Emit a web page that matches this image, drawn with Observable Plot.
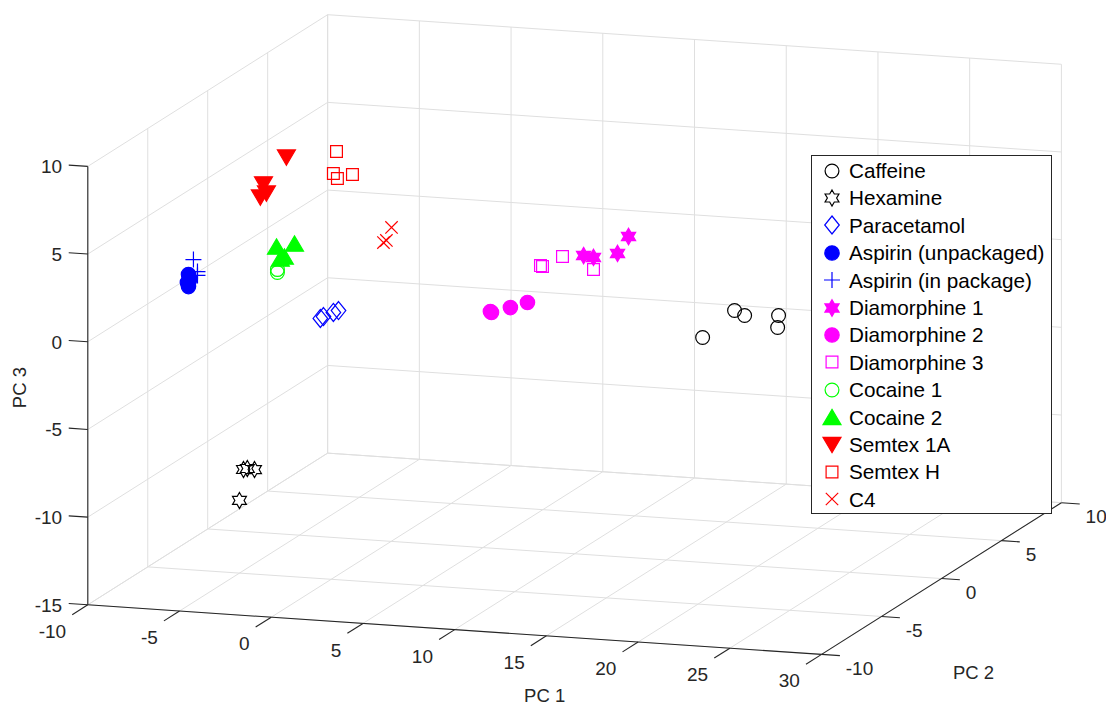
<!DOCTYPE html>
<html><head><meta charset="utf-8">
<script src="https://cdn.jsdelivr.net/npm/d3@7"></script>
<script src="https://cdn.jsdelivr.net/npm/@observablehq/plot@0.6"></script>
<style>
html,body{margin:0;padding:0;background:#fff;}
#wrap{position:relative;width:1106px;height:706px;font-family:"Liberation Sans",Arial,sans-serif;}
#legend{position:absolute;left:811px;top:155px;width:241px;height:359px;box-sizing:border-box;border:1px solid #262626;background:#fff;}
.row{position:absolute;left:0;height:27.4px;width:238px;}
.row svg{position:absolute;left:7.7px;top:1.7px;}
.row span{position:absolute;left:37px;top:0;line-height:27.4px;font-size:20.7px;color:#000;white-space:nowrap;}
</style></head>
<body><div id="wrap"></div>
<script>
// ---------------- data ----------------
const seriesNames = ["Caffeine","Hexamine","Paracetamol","Aspirin (unpackaged)","Aspirin (in package)","Diamorphine 1","Diamorphine 2","Diamorphine 3","Cocaine 1","Cocaine 2","Semtex 1A","Semtex H","C4"];
// [PC1, PC2, PC3]
const caffeine   = [[18.94,-3,-0.74],[20.68,-3,0.92],[21.23,-3,0.68],[23.08,-3,0.81],[23.03,-3,0.12]];
const hexamine   = [[-8.05,0,-11.47],[-7.84,0,-11.40],[-7.45,0,-11.43],[-8.27,0,-13.25]];
const paracetamol= [[-3.86,0,-2.56],[-3.69,0,-2.44],[-3.15,0,-2.17],[-2.87,0,-2.04]];
const aspirinUnpackaged = [[-7.78,-5,1.83],[-7.73,-5,1.60],[-7.84,-5,1.37],[-7.78,-5,1.14],[-7.73,-5,1.49]];
const aspirinInPackage  = [[-7.51,-5,2.70],[-7.29,-5,2.03],[-7.29,-5,1.81]];
const diamorphine1 = [[12.94,0,3.30],[12.34,0,2.29],[11.03,0,1.97],[10.49,0,2.04]];
const diamorphine2 = [[5.41,0,-1.51],[5.47,0,-1.56],[6.50,0,-1.21],[7.43,0,-0.85]];
const diamorphine3 = [[8.14,0,1.30],[8.25,0,1.26],[9.34,0,1.90],[11.03,0,1.28]];
const cocaine1   = [[-6.20,0,0.06],[-6.20,0,-0.11]];
const cocaine2   = [[-6.25,0,1.37],[-5.27,0,1.61],[-6.04,0,0.70],[-5.82,0,0.83]];
const semtex1A   = [[-5.71,0,6.48],[-6.96,0,4.86],[-6.80,0,4.35],[-7.13,0,4.10]];
const semtexH    = [[-2.98,0,7.02],[-3.15,0,5.75],[-2.93,0,5.48],[-2.11,0,5.77]];
const c4         = [[0.02,0,2.90],[-0.42,0,2.01],[-0.26,0,2.14]];
const seriesData = [caffeine,hexamine,paracetamol,aspirinUnpackaged,aspirinInPackage,diamorphine1,diamorphine2,diamorphine3,cocaine1,cocaine2,semtex1A,semtexH,c4];

const pc1Ticks = [-10,-5,0,5,10,15,20,25,30];
const pc2Ticks = [-10,-5,0,5,10];
const pc3Ticks = [-15,-10,-5,0,5,10];
const axisLabels = ["PC 1","PC 2","PC 3"];

// ---------------- marker shapes ----------------
const rad = s => Math.sqrt(s / Math.PI);
const sym = {
  circle:{draw(c,s){const r=rad(s);c.moveTo(r,0);c.arc(0,0,r,0,2*Math.PI);c.closePath();}},
  diamond:{draw(c,s){const r=rad(s),w=r*0.81;c.moveTo(0,-r);c.lineTo(w,0);c.lineTo(0,r);c.lineTo(-w,0);c.closePath();}},
  square:{draw(c,s){const r=rad(s);c.moveTo(-r,-r);c.lineTo(r,-r);c.lineTo(r,r);c.lineTo(-r,r);c.closePath();}},
  plus:{draw(c,s){const r=rad(s);c.moveTo(-r,0);c.lineTo(r,0);c.moveTo(0,-r);c.lineTo(0,r);}},
  times:{draw(c,s){const r=rad(s);c.moveTo(-r,-r);c.lineTo(r,r);c.moveTo(r,-r);c.lineTo(-r,r);}},
  triUp:{draw(c,s){const r=rad(s),h=r*0.85;c.moveTo(0,-h);c.lineTo(r,h);c.lineTo(-r,h);c.closePath();}},
  triDown:{draw(c,s){const r=rad(s),h=r*0.85;c.moveTo(0,h);c.lineTo(r,-h);c.lineTo(-r,-h);c.closePath();}},
  hexagram:{draw(c,s){const R=rad(s),ri=R/Math.sqrt(3);for(let k=0;k<12;k++){const a=-Math.PI/2+k*Math.PI/6,rr=k%2?ri:R;const x=rr*Math.cos(a),y=rr*Math.sin(a);k?c.lineTo(x,y):c.moveTo(x,y);}c.closePath();}}
};
const styles = [
  {symbol:sym.circle,  r:6.9, fill:"none",    stroke:"#000000"},
  {symbol:sym.hexagram,r:8.0, fill:"none",    stroke:"#000000"},
  {symbol:sym.diamond, r:9.0, fill:"none",    stroke:"#0000ff"},
  {symbol:sym.circle,  r:7.2, fill:"#0000ff", stroke:"#0000ff"},
  {symbol:sym.plus,    r:8.0, fill:"none",    stroke:"#0000ff"},
  {symbol:sym.hexagram,r:8.2, fill:"#ff00ff", stroke:"#ff00ff"},
  {symbol:sym.circle,  r:7.2, fill:"#ff00ff", stroke:"#ff00ff"},
  {symbol:sym.square,  r:5.9, fill:"none",    stroke:"#ff00ff"},
  {symbol:sym.circle,  r:6.9, fill:"none",    stroke:"#00ff00"},
  {symbol:sym.triUp,   r:9.0, fill:"#00ff00", stroke:"#00ff00"},
  {symbol:sym.triDown, r:9.0, fill:"#ff0000", stroke:"#ff0000"},
  {symbol:sym.square,  r:5.9, fill:"none",    stroke:"#ff0000"},
  {symbol:sym.times,   r:6.2, fill:"none",    stroke:"#ff0000"}
];

// ---------------- 3D view (orthographic, az/el) ----------------
const lim = [d3.extent(pc1Ticks), d3.extent(pc2Ticks), d3.extent(pc3Ticks)];
const az = 18.1 * Math.PI / 180, el = 20 * Math.PI / 180;
function P(p) {
  const u = (p[0]-lim[0][0])/(lim[0][1]-lim[0][0]);
  const v = (p[1]-lim[1][0])/(lim[1][1]-lim[1][0]);
  const w = (p[2]-lim[2][0])/(lim[2][1]-lim[2][0]);
  return {X: u*Math.cos(az) + v*Math.sin(az),
          Y: -u*Math.sin(az)*Math.sin(el) + v*Math.cos(az)*Math.sin(el) + w*Math.cos(el)};
}
const corners = [];
for (const a of lim[0]) for (const b of lim[1]) for (const c of lim[2]) corners.push(P([a,b,c]));
const xDom = d3.extent(corners, d => d.X), yDom = d3.extent(corners, d => d.Y);

const [x0,x1] = lim[0], [y0,y1] = lim[1], [z0,z1] = lim[2];
const seg = (a,b) => ({a:P(a), b:P(b)});
const grid = [];
for (const t of pc1Ticks) { grid.push(seg([t,y0,z0],[t,y1,z0])); grid.push(seg([t,y1,z0],[t,y1,z1])); }
for (const t of pc2Ticks) { grid.push(seg([x0,t,z0],[x1,t,z0])); grid.push(seg([x0,t,z0],[x0,t,z1])); }
for (const t of pc3Ticks) { grid.push(seg([x0,y1,t],[x1,y1,t])); grid.push(seg([x0,y0,t],[x0,y1,t])); }
const axisLines = [seg([x0,y0,z0],[x1,y0,z0]), seg([x1,y0,z0],[x1,y1,z0]), seg([x0,y0,z0],[x0,y0,z1])];
const tickSegs = [
  ...pc1Ticks.map(t => seg([t,y0,z0],[t,y0-1.3,z0])),
  ...pc2Ticks.map(t => seg([x1,t,z0],[x1+1.0,t,z0])),
  ...pc3Ticks.map(t => seg([x0,y0,t],[x0-1.04,y0,t]))
];
const linkOpts = (stroke, w) => ({x1:d=>d.a.X, y1:d=>d.a.Y, x2:d=>d.b.X, y2:d=>d.b.Y, stroke, strokeWidth:w});
const tickFont = {fontSize:19, fill:"#262626"};

const marks = [
  Plot.link(grid, linkOpts("#dfdfdf", 1)),
  Plot.link(axisLines, linkOpts("#262626", 1.1)),
  Plot.link(tickSegs, linkOpts("#262626", 1.1)),
  Plot.text(pc1Ticks, {x:t=>P([t,y0,z0]).X, y:t=>P([t,y0,z0]).Y, text:t=>String(t), textAnchor:"end", dx:-21.7, dy:27, ...tickFont}),
  Plot.text(pc2Ticks, {x:t=>P([x1,t,z0]).X, y:t=>P([x1,t,z0]).Y, text:t=>String(t), textAnchor:"start", dx:24.2, dy:14.4, ...tickFont}),
  Plot.text(pc3Ticks, {x:t=>P([x0,y0,t]).X, y:t=>P([x0,y0,t]).Y, text:t=>String(t), textAnchor:"end", dx:-25.7, dy:0.8, ...tickFont}),
  Plot.text([axisLabels[0]], {x:()=>P([(x0+x1)/2,y0,z0]).X, y:()=>P([(x0+x1)/2,y0,z0]).Y, text:d=>d, dx:90, dy:66.5, ...tickFont, fontSize:18.5}),
  Plot.text([axisLabels[1]], {x:()=>P([x1,(y0+y1)/2,z0]).X, y:()=>P([x1,(y0+y1)/2,z0]).Y, text:d=>d, dx:32, dy:95, ...tickFont, fontSize:18.5}),
  Plot.text([axisLabels[2]], {x:()=>P([x0,y0,(z0+z1)/2]).X, y:()=>P([x0,y0,(z0+z1)/2]).Y, text:d=>d, dx:-68, dy:2, rotate:-90, ...tickFont, fontSize:18.5}),
  ...seriesData.map((data, i) => Plot.dot(data, {
    x:p=>P(p).X, y:p=>P(p).Y,
    symbol: styles[i].symbol, r: styles[i].r, fill: styles[i].fill, stroke: styles[i].stroke, strokeWidth: 1.2
  }))
];

const chart = Plot.plot({
  width:1106, height:706,
  marginLeft:87.3, marginRight:45.1, marginTop:14.2, marginBottom:52.1,
  x:{domain:xDom, axis:null}, y:{domain:yDom, axis:null},
  style:{fontFamily:'"Liberation Sans", Arial, sans-serif', background:"#fff"},
  marks
});
const wrap = document.getElementById("wrap");
wrap.appendChild(chart);

// ---------------- legend ----------------
const legend = document.createElement("div");
legend.id = "legend";
seriesNames.forEach((name, i) => {
  const row = document.createElement("div");
  row.className = "row";
  row.style.top = (1 + i*27.4) + "px";
  const st = styles[i];
  const p = d3.path();
  st.symbol.draw(p, st.r*st.r*Math.PI);
  row.innerHTML = `<svg width="24" height="24" viewBox="-12 -12 24 24"><path d="${p.toString()}" fill="${st.fill}" stroke="${st.stroke}" stroke-width="1.2"/></svg><span></span>`;
  row.querySelector("span").textContent = name;
  legend.appendChild(row);
});
wrap.appendChild(legend);
</script>
</body></html>
